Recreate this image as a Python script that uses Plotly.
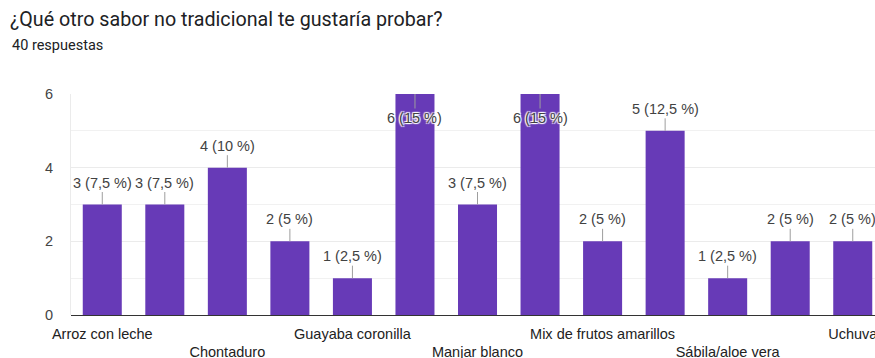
import plotly.graph_objects as go

categories = [
    "Arroz con leche", "Borojó", "Chontaduro", "Feijoa", "Guayaba coronilla",
    "Lulo", "Manjar blanco", "Maracuyá", "Mix de frutos amarillos", "Pitahaya",
    "Sábila/aloe vera", "Tomate de árbol", "Uchuva",
]
counts = [3, 3, 4, 2, 1, 6, 3, 6, 2, 5, 1, 2, 2]
total_responses = 40
y_tick_values = [0, 2, 4, 6]

title_text = "¿Qué otro sabor no tradicional te gustaría probar?"
subtitle_text = f"{total_responses} respuestas"

PURPLE = "#673ab7"
W, H = 875, 358
L, T, B = 71, 94, 43
plot_h = H - T - B
cat_w = 62.54
plot_w = W - L

def pct_label(v):
    p = v / total_responses * 100
    s = f"{p:.1f}".rstrip("0").rstrip(".").replace(".", ",")
    return f"{v} ({s} %)"

fig = go.Figure(go.Bar(
    x=categories, y=counts, marker=dict(color=PURPLE, line=dict(width=0)),
    hoverinfo="skip",
))

tickvals = categories[::2]
ticktext = [c if i % 2 == 0 else "<br>" + c for i, c in enumerate(tickvals)]

ymax = max(y_tick_values)
annotations = []
for c, v in zip(categories, counts):
    inside = v >= ymax
    annotations.append(dict(
        x=c, y=v, xref="x", yref="y", text=pct_label(v),
        showarrow=True, arrowhead=0, arrowwidth=1, arrowcolor="#9e9e9e",
        ax=0, ay=24 if inside else -22,
        font=dict(family="Liberation Sans, Arial", size=14.5, color="#424242",
                  shadow="1px 1px 1px #fff, -1px -1px 1px #fff, 1px -1px 1px #fff, -1px 1px 1px #fff"),
    ))

annotations.append(dict(
    text=subtitle_text, xref="paper", yref="paper",
    x=(10 - L) / plot_w, y=1 + (T - 46) / plot_h,
    xanchor="left", yanchor="middle", showarrow=False,
    font=dict(family="Roboto", size=14.5, color="#202124"),
))

fig.update_layout(
    width=W, height=H,
    margin=dict(l=L, r=0, t=T, b=B, pad=0),
    paper_bgcolor="white", plot_bgcolor="white",
    showlegend=False,
    bargap=0.376,
    title=dict(text=title_text, xref="container", yref="container",
               x=10 / W, y=1 - 19 / H, xanchor="left", yanchor="middle",
               font=dict(family="Roboto", size=19.7, color="#202124")),
    xaxis=dict(
        type="category", range=[-0.5, -0.5 + plot_w / cat_w],
        tickmode="array", tickvals=tickvals, ticktext=ticktext,
        tickangle=0, ticks="", showgrid=False, automargin=False,
        tickfont=dict(family="Liberation Sans, Arial", size=14.5, color="#222222"),
        ticklabelstandoff=8,
        showline=False, fixedrange=True,
    ),
    yaxis=dict(
        range=[0, ymax], tickmode="array", tickvals=y_tick_values,
        ticks="", showgrid=True, gridcolor="#ebebeb", gridwidth=1,
        minor=dict(dtick=1, showgrid=True, gridcolor="#f1f1f1", gridwidth=1),
        zeroline=True, zerolinecolor="#333333", zerolinewidth=1,
        showline=True, linecolor="#ebebeb", linewidth=1,
        tickfont=dict(family="Liberation Sans, Arial", size=14.5, color="#444444"),
        ticklabelstandoff=14, automargin=False, fixedrange=True,
    ),
    annotations=annotations,
)

fig.write_html("out.html", config={"displayModeBar": False})
